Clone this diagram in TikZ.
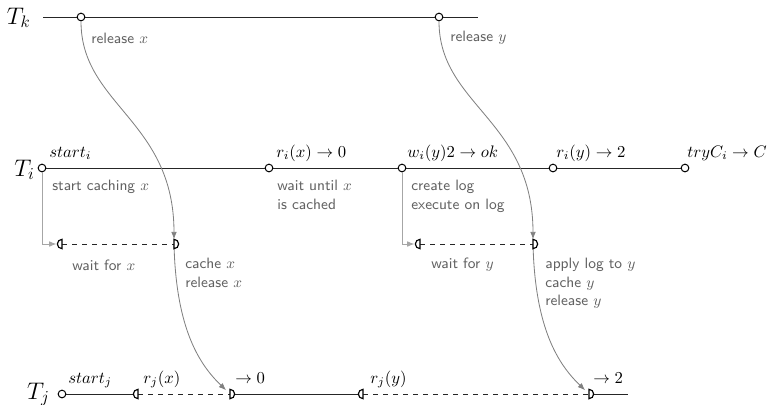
\documentclass[tikz,border=0pt]{standalone}
\usepackage{amsmath,amssymb}
\usepackage{tikz}
\usetikzlibrary{arrows.meta}
\usetikzlibrary{positioning}

\begin{document}
\begin{tikzpicture}[
    x=0.6pt, y=-0.6pt,
    >={Latex[length=4.5pt,width=3.4pt]},
    lane/.style={font=\Large, anchor=base east, inner sep=0pt},
    event/.style={circle, draw, fill=white, inner sep=0pt, minimum size=4.6pt, line width=0.6pt},
    tline/.style={line width=0.6pt, draw=black!85},
    waitline/.style={dashed, line width=0.6pt, draw=black!85},
    op/.style={anchor=base west, inner sep=0pt},
    note/.style={font=\sffamily\small, text=black!62, inner sep=0pt, align=left},
    flow/.style={->, draw=black!50, line width=0.5pt, shorten >=2.8pt},
    cue/.style={->, draw=black!35, line width=0.6pt, shorten >=3.2pt},
    lcap/.pic={\draw[line width=0.7pt, fill=white] (0,2.8pt) arc[start angle=90, end angle=270, radius=2.8pt] -- cycle;},
    rcap/.pic={\draw[line width=0.7pt, fill=white] (0,2.8pt) arc[start angle=90, end angle=-90, radius=2.8pt] -- cycle;}
]
\useasboundingbox (0,0) rectangle (772,404);

% --- Lanes ---
\node[lane] (lk) at (31,24) {$T_k$};
\node[lane] (li) at (35,176) {$T_i$};
\node[lane] (lj) at (50,399) {$T_j$};

% --- T_k ---
\coordinate (tk0) at (43,17);
\coordinate (tkend) at (478,17);
\node[event] (tk1) at (81,17) {};
\node[event] (tk2) at (439,17) {};

% --- T_i ---
\node[event] (ti1) at (42,168) {};
\node[event] (ti2) at (269,168) {};
\node[event] (ti3) at (402,168) {};
\node[event] (ti4) at (553,168) {};
\node[event] (ti5) at (685,168) {};

% Waiting rows of T_i
\coordinate (wx1) at (62,244);
\coordinate (wx2) at (174,244);
\coordinate (wy1) at (420,244);
\coordinate (wy2) at (533,244);

% --- T_j ---
\node[event] (tj1) at (62,394) {};
\coordinate (tj2) at (138,394);
\coordinate (tj3) at (230,394);
\coordinate (tj4) at (363,394);
\coordinate (tj5) at (589,394);
\coordinate (tjend) at (628,394);

% Time lines
\draw[tline] (tk0) -- (tk1) -- (tk2) -- (tkend);
\draw[tline] (ti1) -- (ti2) -- (ti3) -- (ti4) -- (ti5);
\draw[tline] (tj1) -- (tj2);
\draw[waitline] (tj2) -- (tj3);
\draw[tline] (tj3) -- (tj4);
\draw[waitline] (tj4) -- (tj5);
\draw[tline] (tj5) -- (tjend);
\draw[waitline] (wx1) -- (wx2);
\draw[waitline] (wy1) -- (wy2);

% Caching requests
\draw[cue] (ti1) |- (wx1);
\draw[cue] (ti3) |- (wy1);

% Releases and hand-over of values
\draw[flow] (tk1) .. controls (81,105) and (174,120) .. (wx2);
\draw[flow] (tk2) .. controls (439,105) and (533,120) .. (wy2);
\draw[flow, shorten >=3.2pt] (wx2) .. controls (176,330) and (200,365) .. (tj3);
\draw[flow, shorten >=3.2pt] (wy2) .. controls (535,330) and (559,365) .. (tj5);

% Wait markers
\pic at (wx1) {lcap};
\pic at (wx2) {rcap};
\pic at (wy1) {lcap};
\pic at (wy2) {rcap};
\pic at (tj2) {lcap};
\pic at (tj3) {rcap};
\pic at (tj4) {lcap};
\pic at (tj5) {rcap};

% --- Operations ---
\node[op] (oi1) at (49,157) {$start_i$};
\node[op] (oi2) at (276,157) {$r_i(x)\rightarrow 0$};
\node[op] (oi3) at (407,157) {$w_i(y)2\rightarrow ok$};
\node[op] (oi4) at (556,157) {$r_i(y)\rightarrow 2$};
\node[op] (oi5) at (687,157) {$tryC_i\rightarrow C$};

\node[op] (oj1) at (68,383) {$start_j$};
\node[op] (oj2) at (143,383) {$r_j(x)$};
\node[op] (oj3) at (235,383) {$\rightarrow 0$};
\node[op] (oj4) at (370,383) {$r_j(y)$};
\node[op] (oj5) at (593,383) {$\rightarrow 2$};

% --- Notes ---
\node[note, anchor=west] (nk1) at (91,38) {release $x$};
\node[note, anchor=west] (nk2) at (450,38) {release $y$};
\node[note, anchor=west] (ni1) at (52,187) {start caching $x$};
\node[note, anchor=north west] (ni2) at (277,180) {wait until $x$\\is cached};
\node[note, anchor=north west] (ni3) at (411,180) {create log\\execute on log};
\node[note, anchor=west] (nw1) at (72,265) {wait for $x$};
\node[note, anchor=north west] (nw2) at (185,258) {cache $x$\\release $x$};
\node[note, anchor=west] (nw3) at (431,265) {wait for $y$};
\node[note, anchor=north west] (nw4) at (545,258) {apply log to $y$\\cache $y$\\release $y$};

\end{tikzpicture}
\end{document}
